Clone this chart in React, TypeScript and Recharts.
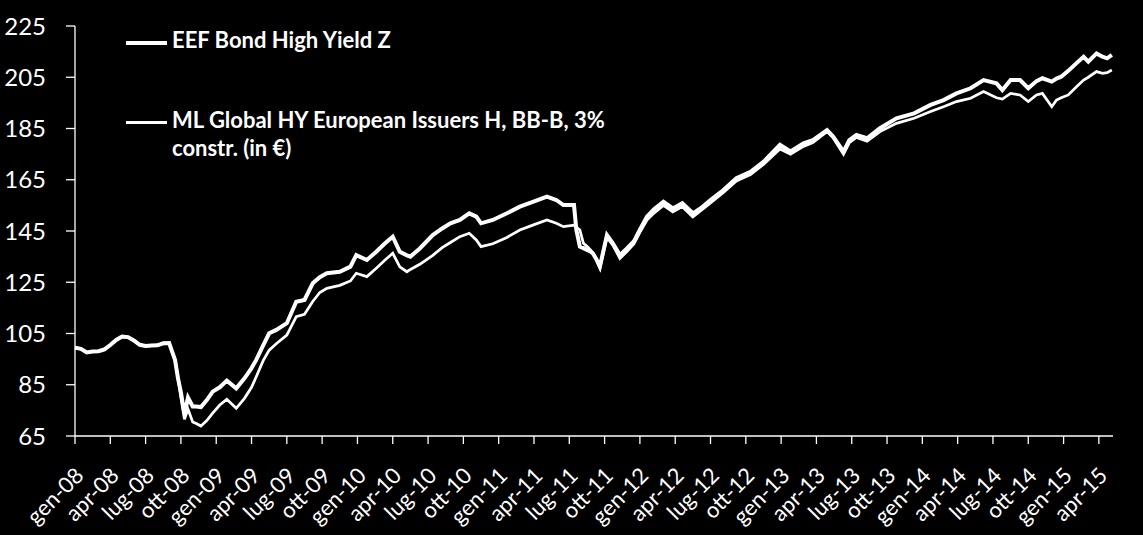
import { Legend, Line, LineChart, XAxis, YAxis } from "recharts";

const MONTHS_IT = ["gen", "feb", "mar", "apr", "mag", "giu", "lug", "ago", "set", "ott", "nov", "dic"];

// months elapsed since gen-08
const t = [
  0, 0.5, 1, 1.5, 2, 2.5, 3, 3.5, 4, 4.5, 5, 5.5, 6, 6.5, 7, 7.5, 8, 8.5, 8.75, 9,
  9.3, 9.6, 10, 10.3, 10.7, 11.2, 11.7, 12.3, 12.9, 13.7, 14.4, 15, 15.4, 16, 16.5, 17.1,
  18, 18.8, 19.5, 20.2, 20.8, 21.4, 22.5, 23.4, 23.9, 24.8, 25.6, 26.3, 27, 27.6, 28.2, 28.5,
  29.3, 30.4, 31.2, 31.9, 32.7, 33.5, 34.1, 34.5, 35.5, 36.7, 37.8, 38.9, 40.1, 40.9, 41.5,
  42.4, 42.6, 42.9, 43.2, 43.5, 43.8, 44, 44.3, 44.6, 45.2, 45.7, 46.3, 46.9, 47.5, 48, 48.6,
  49.2, 50, 50.8, 51.6, 52.5, 53.2, 54, 55.1, 56.2, 57.4, 58.5, 59.9, 60.8, 61.9, 62.7, 63.9,
  64.4, 65.3, 65.8, 66.4, 67.3, 68.4, 69.8, 71.3, 72.7, 73.8, 74.9, 76.1, 77.2, 78.3, 78.8,
  79.5, 80.3, 81, 81.7, 82.2, 83, 83.4, 83.8, 84.4, 85.1, 85.7, 86.1, 86.8, 87.3, 87.7, 88.1,
];

const eefBondHY = [
  99.5, 99.0, 97.6, 98.0, 98.1, 98.8, 100.5, 102.5, 103.8, 103.6, 102.3, 100.6, 100.1, 100.3, 100.4, 101.2, 101.3, 94.7, 87.6, 82.0,
  73.5, 80.0, 76.5, 76.5, 76.3, 79.0, 82.3, 84.0, 86.6, 83.6, 87.5, 91.5, 94.7, 100.5, 105.1, 106.4,
  109.0, 117.4, 118.1, 124.6, 127.0, 128.5, 129.1, 131.1, 135.6, 133.7, 136.9, 140.0, 142.8, 136.9, 135.5, 135.0,
  138.2, 143.4, 146.0, 148.0, 149.3, 151.9, 150.6, 148.0, 149.3, 151.9, 154.5, 156.4, 158.4, 157.1, 155.1,
  155.1, 145.4, 138.9, 138.3, 137.6, 137.0, 136.3, 134.0, 131.1, 143.4, 140.2, 135.6, 138.2, 141.0, 145.5, 150.6,
  153.5, 156.4, 153.8, 155.8, 151.9, 154.0, 157.1, 161.0, 165.6, 168.1, 172.0, 178.6, 176.0, 179.2, 180.5, 184.4,
  182.0, 176.0, 180.5, 182.5, 181.2, 185.1, 189.0, 190.9, 194.2, 196.1, 198.7, 200.7, 203.9, 202.6, 200.0,
  203.9, 203.9, 200.7, 203.5, 204.6, 203.3, 204.5, 205.2, 207.5, 210.5, 213.0, 211.1, 214.3, 213.0, 212.4, 213.7,
];

const mlGlobalHY = [
  99.5, 99.0, 97.6, 98.0, 98.1, 98.8, 100.5, 102.5, 103.8, 103.6, 102.3, 100.6, 100.1, 100.3, 100.4, 101.2, 101.3, 94.7, 87.6, 80.0,
  71.5, 75.5, 70.5, 69.9, 68.9, 71.0, 73.9, 77.1, 79.3, 75.8, 79.7, 84.0, 88.1, 94.5, 98.5, 101.0,
  104.4, 111.6, 112.5, 117.5, 121.0, 122.6, 123.8, 125.5, 128.5, 127.2, 130.5, 133.5, 136.3, 131.0, 129.1, 130.0,
  132.0, 135.5, 138.5, 140.5, 142.8, 144.1, 141.5, 138.9, 140.0, 142.5, 145.4, 147.3, 149.3, 148.0, 146.7,
  147.3, 146.5, 145.4, 140.2, 139.0, 137.6, 136.5, 133.7, 130.5, 142.5, 139.5, 134.3, 137.0, 140.0, 144.5, 149.3,
  152.0, 155.0, 152.5, 154.5, 150.5, 153.0, 156.0, 160.0, 164.5, 167.0, 171.0, 177.0, 175.0, 178.0, 179.5, 183.8,
  181.5, 175.0, 179.5, 181.5, 180.0, 183.8, 187.0, 189.0, 191.6, 193.5, 195.5, 196.8, 199.4, 197.0, 196.5,
  198.7, 198.1, 195.5, 198.1, 198.7, 193.5, 196.1, 197.0, 198.1, 201.3, 203.9, 205.0, 207.2, 206.5, 206.8, 207.8,
];

const Y_TICKS = [65, 85, 105, 125, 145, 165, 185, 205, 225];
const X_TICKS = Array.from({ length: 30 }, (_, i) => i * 3);

const data = t.map((m, i) => ({ m, eef: eefBondHY[i], ml: mlGlobalHY[i] }));

const FONT = "Lato, 'Open Sans', sans-serif";

function monthLabel(m: number) {
  const yy = 8 + Math.floor(m / 12);
  return `${MONTHS_IT[m % 12]}-${String(yy).padStart(2, "0")}`;
}

function MonthTick({ x, y, payload }: any) {
  return (
    <g transform={`translate(${x + 10},${y + 31})`}>
      <text textAnchor="end" transform="rotate(-45)" fill="#fff" fontSize={22} fontFamily={FONT}>
        {monthLabel(payload.value)}
      </text>
    </g>
  );
}

function LegendBox({ payload }: any) {
  return (
    <div style={{ fontFamily: FONT, fontWeight: 700, fontSize: 22, lineHeight: "28px", color: "#fff" }}>
      {(payload ?? []).map((p: any, i: number) => {
        const sw = p.payload?.strokeWidth ?? 3;
        return (
          <div key={p.value} style={{ display: "flex", alignItems: "flex-start", marginBottom: i === 0 ? 52 : 0 }}>
            <div style={{ width: 41, height: sw, background: "#fff", marginTop: 16.5 - sw / 2, marginRight: 5, flex: "none" }} />
            <div style={{ maxWidth: 450 }}>{p.value}</div>
          </div>
        );
      })}
    </div>
  );
}

export default function App() {
  return (
    <div style={{ position: "absolute", left: 0, top: 0, width: 1143, height: 535, background: "#000" }}>
      <LineChart width={1143} height={535} data={data} margin={{ top: 26, right: 30, bottom: 0, left: 0 }}>
        <XAxis
          dataKey="m"
          type="number"
          domain={[0, 88.2]}
          ticks={X_TICKS}
          interval={0}
          height={99}
          stroke="#fff"
          strokeWidth={1.3}
          tickSize={8}
          tickMargin={2}
          tick={<MonthTick />}
        />
        <YAxis
          domain={[65, 225]}
          ticks={Y_TICKS}
          interval={0}
          width={75}
          stroke="#fff"
          strokeWidth={1.3}
          tickSize={9}
          tickMargin={20}
          tick={{ fill: "#fff", fontSize: 24, fontFamily: FONT }}
        />
        <Legend
          layout="vertical"
          align="center"
          verticalAlign="middle"
          content={<LegendBox />}
          wrapperStyle={{ left: 126, top: 26, width: 640, height: "auto" }}
        />
        <Line
          dataKey="ml"
          name="ML Global HY European Issuers H, BB-B, 3% constr. (in €)"
          stroke="#fff"
          strokeWidth={2.75}
          dot={false}
          isAnimationActive={false}
          legendType="line"
        />
        <Line
          dataKey="eef"
          name="EEF Bond High Yield Z"
          stroke="#fff"
          strokeWidth={4}
          dot={false}
          isAnimationActive={false}
          legendType="line"
        />
      </LineChart>
    </div>
  );
}
